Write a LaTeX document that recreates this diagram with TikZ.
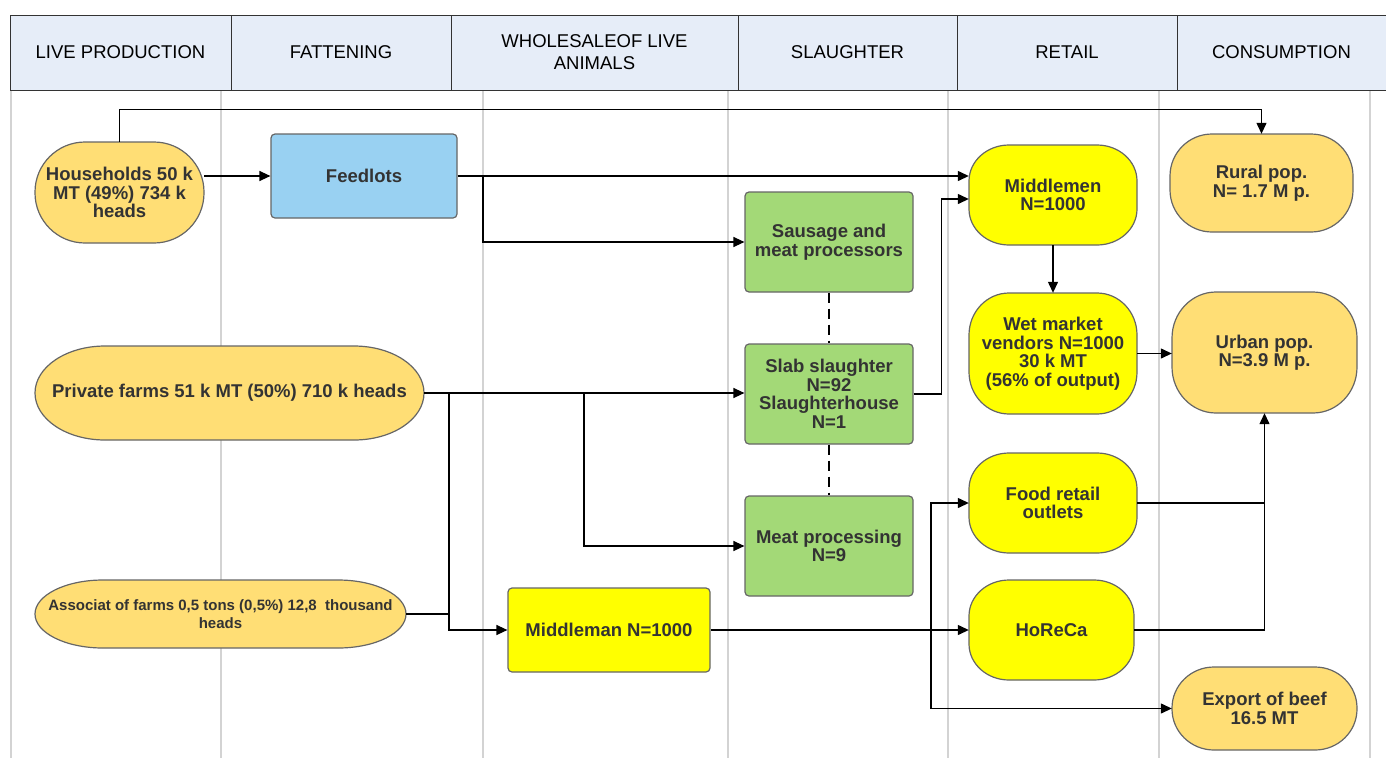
\documentclass[tikz,border=0pt]{standalone}
\usepackage{fontspec}
\setmainfont{Liberation Sans}
\usetikzlibrary{arrows.meta}
\definecolor{cOrange}{RGB}{255,222,117}
\definecolor{cYellow}{RGB}{255,255,0}
\definecolor{cGreen}{RGB}{163,217,119}
\definecolor{cBlue}{RGB}{153,209,242}
\definecolor{cHead}{RGB}{230,237,248}
\definecolor{cBorder}{RGB}{102,102,102}
\definecolor{cText}{RGB}{51,51,51}
\definecolor{cLane}{RGB}{211,211,211}
\tikzset{
  lane/.style={draw=cLane, line width=1.5pt},
  hdr/.style={draw=black!80, line width=1pt, fill=cHead},
  hdrtxt/.style={font=\fontsize{18.5}{22}\selectfont, align=center, text=black},
  nb/.style={draw=cBorder, line width=1.2pt},
  txt/.style={font=\bfseries\fontsize{18.5}{18.5}\selectfont, text=cText, align=center, inner sep=0pt},
  boxnode/.style={nb, txt, rounded corners=4pt},
  arr/.style={draw=black, line width=1.3pt, -{Triangle[length=11pt,width=10pt]}},
  ln/.style={draw=black, line width=1.3pt},
  dsh/.style={draw=black, line width=1.3pt, dash pattern=on 10pt off 6pt},
}
% name, L, T, R, B, rx, ry, fill, text
\newcommand{\capnode}[9]{%
  \draw[nb, fill=#8] (#2+#6,#3) -- (#4-#6,#3)
    arc[start angle=270, end angle=360, x radius=#6, y radius=#7] -- (#4,#5-#7)
    arc[start angle=0, end angle=90, x radius=#6, y radius=#7] -- (#2+#6,#5)
    arc[start angle=90, end angle=180, x radius=#6, y radius=#7] -- (#2,#3+#7)
    arc[start angle=180, end angle=270, x radius=#6, y radius=#7] -- cycle;
  \node[txt, minimum width={#4-#2}, minimum height={#5-#3}] (#1) at ({(#2+#4)/2},{(#3+#5)/2}) {#9};
}
\begin{document}
\begin{tikzpicture}[x=1pt,y=-1pt]
\useasboundingbox (0,0) rectangle (1386,758);
\fill[white] (0,0) rectangle (1386,758);
% lanes
\foreach \lx in {11,221,483,728,948,1159,1370} \draw[lane] (\lx,90) -- (\lx,758);
% header
\draw[hdr] (10,15) rectangle (1386,90);
\foreach \hx in {231,451,738,957,1177} \draw[draw=black!80, line width=1pt] (\hx,15) -- (\hx,90);
\node[hdrtxt] (h1) at (120.5,52) {LIVE PRODUCTION};
\node[hdrtxt] (h2) at (341,52) {FATTENING};
\node[hdrtxt] (h3) at (594.5,52) {WHOLESALEOF LIVE\\ANIMALS};
\node[hdrtxt] (h4) at (847.5,52) {SLAUGHTER};
\node[hdrtxt] (h5) at (1067,52) {RETAIL};
\node[hdrtxt] (h6) at (1281.5,52) {CONSUMPTION};
% capsule nodes
\capnode{hh}{35}{142}{204}{243}{50}{50}{cOrange}{Households 50 k\\MT (49\%) 734 k\\heads}
\capnode{pf}{35}{346}{424}{440}{70}{47}{cOrange}{Private farms 51 k MT (50\%) 710 k heads}
\capnode{as}{35}{580}{406}{648}{68}{34}{cOrange}{\fontsize{15}{16}\selectfont Associat of farms 0,5 tons (0,5\%) 12,8 \ thousand\\\fontsize{15}{16}\selectfont heads}
\capnode{mid}{969}{145}{1137}{245}{40}{36}{cYellow}{Middlemen\\N=1000}
\capnode{wet}{969}{293}{1137}{414}{40}{42}{cYellow}{Wet market\\vendors N=1000\\30 k MT\\(56\% of output)}
\capnode{fr}{969}{453}{1137}{553}{40}{36}{cYellow}{Food retail\\outlets}
\capnode{hor}{969}{580}{1134}{680}{40}{36}{cYellow}{HoReCa}
\capnode{rural}{1170}{134}{1353}{232}{42}{42}{cOrange}{Rural pop.\\N= 1.7 M p.}
\capnode{urban}{1172}{292}{1357}{413}{44}{46}{cOrange}{Urban pop.\\N=3.9 M p.}
\capnode{exp}{1172}{667}{1357}{750}{42}{41}{cOrange}{Export of beef\\16.5 MT}
% rectangular nodes
\node[boxnode, fill=cBlue, minimum width=186, minimum height=84] (feed) at (364,176) {Feedlots};
\node[boxnode, fill=cGreen, minimum width=168, minimum height=100] (saus) at (829,242) {Sausage and\\meat processors};
\node[boxnode, fill=cGreen, minimum width=168, minimum height=100] (slab) at (829,394) {Slab slaughter\\N=92\\Slaughterhouse\\N=1};
\node[boxnode, fill=cGreen, minimum width=168, minimum height=100] (mp) at (829,546) {Meat processing\\N=9};
\node[boxnode, fill=cYellow, minimum width=202, minimum height=84] (mm) at (609,630) {Middleman N=1000};
% junctions
\coordinate (jf) at (483,176);
\coordinate (jp1) at (449,393);
\coordinate (jp2) at (584,393);
\coordinate (jh) at (931,630);
\coordinate (jr) at (1264.5,503);
% connectors
\draw[arr] (hh.north) -- ++(0,-32) -| (rural.north);
\draw[arr] (hh.east |- feed.west) -- (feed.west);
\draw[arr] (feed.east) -- (feed.east -| mid.west);
\draw[arr] (jf) |- (saus.west);
\draw[arr] (pf.east) -- (pf.east -| slab.west);
\draw[arr] (jp2) |- (mp.west);
\draw[arr] (jp1) |- (mm.west);
\draw[ln] (as.east) -- (as.east -| jp1);
\draw[arr] (slab.east) -- ++(28,0) |- ([yshift=-4pt]mid.west);
\draw[arr] (mid.south) -- (wet.north);
\draw[arr] (wet.east) -- (wet.east -| urban.west);
\draw[arr] (mm.east) -- (hor.west);
\draw[arr] (jh) |- (fr.west);
\draw[arr] (jh) |- (exp.west);
\draw[arr] (fr.east) -| (urban.south);
\draw[ln] (hor.east) -| (jr);
\draw[dsh] (saus.south) -- (slab.north);
\draw[dsh] (slab.south) -- (mp.north);
\end{tikzpicture}
\end{document}
